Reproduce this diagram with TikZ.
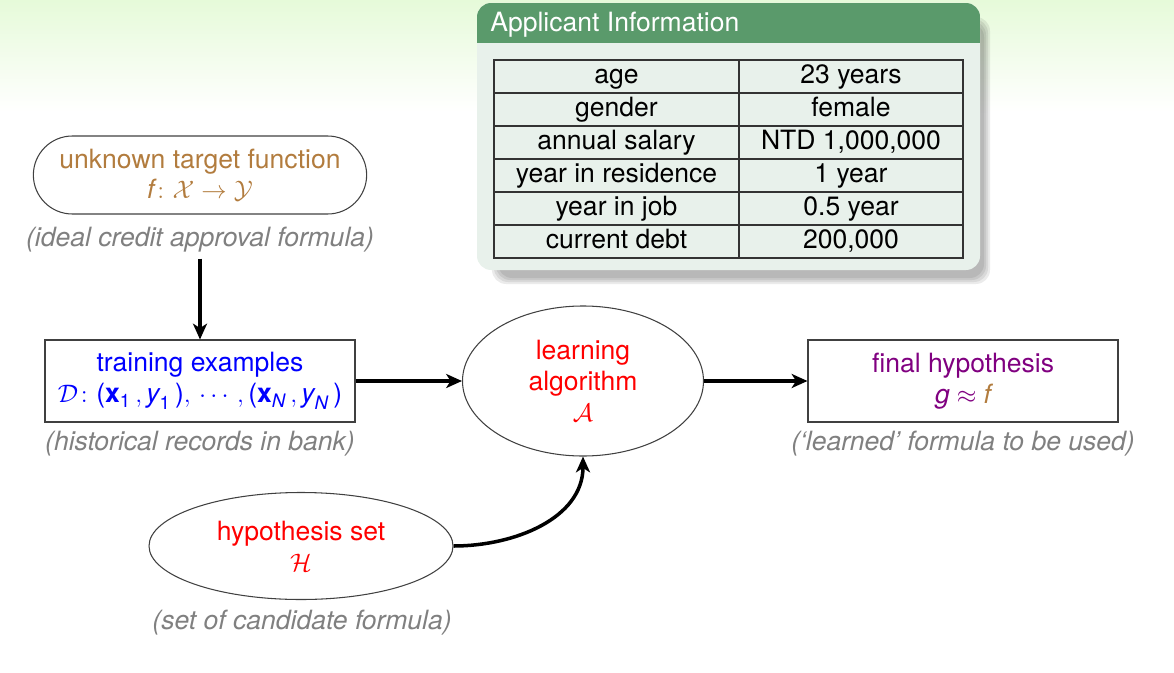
\documentclass[tikz,border=0pt]{standalone}
\usepackage{amsmath,amssymb}
\usepackage{fontspec}
\setmainfont{TeX Gyre Heros}
\usetikzlibrary{arrows.meta,positioning,shapes}
\definecolor{hdrGreen}{HTML}{5A9A6B}
\definecolor{blockBody}{HTML}{E8F1EB}
\definecolor{bgGreen}{HTML}{E6FAD9}
\definecolor{tgtBrown}{HTML}{B27C3E}
\definecolor{capGrey}{HTML}{808080}
\definecolor{hypPurple}{HTML}{800080}
\definecolor{edgeGrey}{HTML}{404040}

\begin{document}
\begin{tikzpicture}[every node/.style={font=\fontsize{15.1}{17.5}\selectfont},box/.style={rectangle,draw=edgeGrey,line width=0.6pt,minimum width=6.2cm,minimum height=1.64cm,align=center,inner sep=2pt},oval/.style={ellipse,draw=edgeGrey,line width=0.6pt,align=center,inner sep=0pt},caption/.style={text=capGrey,font=\fontsize{15.1}{17.5}\selectfont\itshape},cell/.style={rectangle,draw=black!80,line width=0.6pt,minimum height=0.66cm,inner sep=0pt,text height=12pt,text depth=3.5pt},flow/.style={-{Stealth[length=9pt,width=8pt,inset=2.5pt]},line width=2pt}]
  \useasboundingbox (0,0) rectangle (23.48,13.44);
  \shade[top color=bgGreen,bottom color=white] (0,11.2) rectangle (23.48,13.44);
  % applicant block
  \foreach \s in {0,0.04,0.08,0.12}{\fill[black,opacity=0.08,rounded corners=8pt] (9.84+\s,7.76+\s) rectangle (19.8-\s,13.1-\s);}
  \fill[blockBody,rounded corners=8pt] (9.54,8.04) rectangle (19.6,13.38);
  \begin{scope}
    \clip[rounded corners=8pt] (9.54,8.04) rectangle (19.6,13.38);
    \fill[hdrGreen] (9.54,12.58) rectangle (19.6,13.38);
  \end{scope}
  \node[text=white,anchor=base west,inner sep=0pt] (hdr) at (9.8,12.8) {Applicant Information};
  \foreach \k/\v [count=\i] in {age/23 years,gender/female,{annual salary/NTD 1,000,000},year in residence/1 year,year in job/0.5 year,{current debt/200,000}}{
    \node[cell,minimum width=4.9cm] (key\i) at (12.33,{11.91-0.66*(\i-1)}) {\k};
    \node[cell,minimum width=4.48cm] (val\i) at (17.02,{11.91-0.66*(\i-1)}) {\v};
  }
  % learning flow
  \node[rounded rectangle,draw=edgeGrey,line width=0.6pt,minimum width=6.9cm,minimum height=1.56cm,align=center,text=tgtBrown] (target) at (4.0,9.94) {unknown target function\\$\textit{f}\colon\mathcal{X}\to\mathcal{Y}$};
  \node[caption] (targetcap) at (4.0,8.64) {(ideal credit approval formula)};
  \node[box,text=blue] (train) at (4.0,5.82) {training examples\\$\mathcal{D}\colon\text{(}\textbf{x}_{\text{1}}\,,\textit{y}_{\text{1}}\,\text{)},\,\cdots\,,\text{(}\textbf{x}_{\textit{N}}\,,\textit{y}_{\textit{N}}\,\text{)}$};
  \node[caption] (traincap) at (4.0,4.56) {(historical records in bank)};
  \node[oval,text=red,minimum width=4.82cm,minimum height=3.0cm] (learn) at (11.66,5.82) {learning\\algorithm\\$\mathcal{A}$};
  \node[box,text=hypPurple] (final) at (19.26,5.82) {final hypothesis\\$\textit{g}\approx\textcolor{tgtBrown}{\textit{f}}$};
  \node[caption] (finalcap) at (19.26,4.56) {(`learned' formula to be used)};
  \node[oval,text=red,minimum width=6.08cm,minimum height=2.14cm] (hyp) at (6.02,2.52) {hypothesis set\\$\mathcal{H}$};
  \node[caption] (hypcap) at (6.04,0.98) {(set of candidate formula)};
  \draw[flow] (targetcap) -- (train);
  \foreach \a/\b in {train/learn,learn/final}{\draw[flow] (\a) -- (\b);}
  \draw[flow] (hyp.east) to[out=0,in=-90] (learn.south);
\end{tikzpicture}
\end{document}
